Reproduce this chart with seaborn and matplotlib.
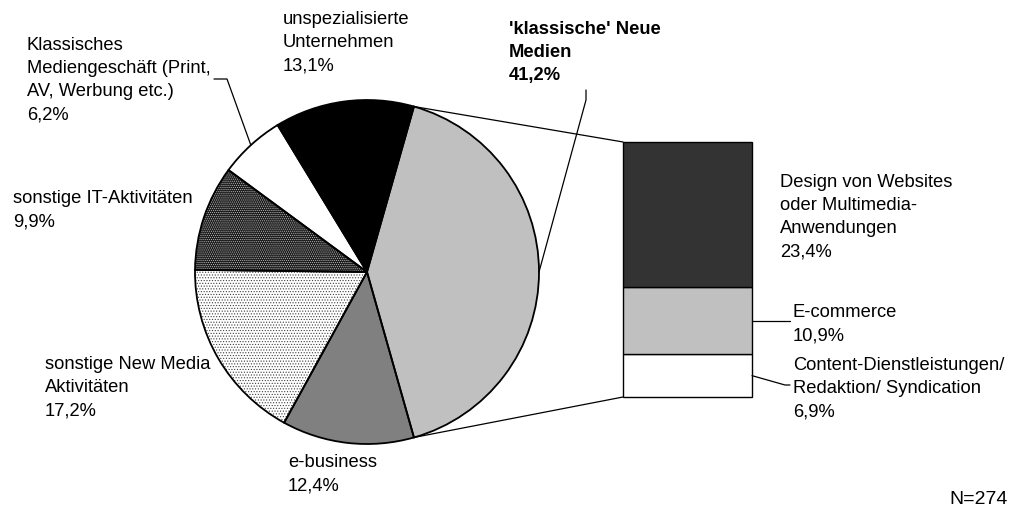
import numpy as np
import matplotlib
matplotlib.use("Agg")
import matplotlib.pyplot as plt
import seaborn as sns

# ---- data ----
pie_labels = ["'klassische' Neue\nMedien", "unspezialisierte\nUnternehmen",
              "Klassisches\nMediengeschäft (Print,\nAV, Werbung etc.)",
              "sonstige IT-Aktivitäten", "sonstige New Media\nAktivitäten",
              "e-business"]
pie_values = [41.2, 13.1, 6.2, 9.9, 17.2, 12.4]
pie_colors = ["#c0c0c0", "#000000", "#ffffff", "#1c1c1c", "#ffffff", "#808080"]
pie_hatches = [None, None, None, "........", "......", None]
pie_hatch_colors = [None, None, None, "#bdbdbd", "#404040", None]

bar_labels = ["Content-Dienstleistungen/\nRedaktion/ Syndication", "E-commerce",
              "Design von Websites\noder Multimedia-\nAnwendungen"]
bar_values = [6.9, 10.9, 23.4]
bar_colors = ["#ffffff", "#c0c0c0", "#333333"]
n_label = "N=274"

def pct(v):
    return f"{v:.1f}%".replace(".", ",")

sns.set_theme(style="white")
plt.rcParams['font.family'] = ['Liberation Sans', 'DejaVu Sans']
plt.rcParams['hatch.linewidth'] = 0.5

W, H = 1013, 508
fig = plt.figure(figsize=(W / 100, H / 100), dpi=100)
fig.patch.set_facecolor("white")

def fbox(left, top, width, height):
    return [left / W, 1 - (top + height) / H, width / W, height / H]

# overlay axes in pixel coordinates (for text + leader lines)
ov = fig.add_axes([0, 0, 1, 1], zorder=5)
ov.set_xlim(0, W); ov.set_ylim(H, 0); ov.axis("off"); ov.patch.set_alpha(0)

# ---- pie ----
cx, cy, r = 367, 272, 172
pax = fig.add_axes(fbox(cx - r, cy - r, 2 * r, 2 * r))
start = -pie_values[0] * 3.6 / 2
wedges, _ = pax.pie(pie_values, colors=pie_colors, startangle=start, counterclock=True,
                    radius=1, wedgeprops=dict(linewidth=0))
for w, h, hc in zip(wedges, pie_hatches, pie_hatch_colors):
    w.set_clip_on(False)
    if h:
        w.set_hatch(h)
        w.set_edgecolor(hc)
        w.set_linewidth(0)
# outlines
wo, _ = pax.pie(pie_values, startangle=start, counterclock=True, radius=1,
                wedgeprops=dict(fill=False, edgecolor="black", linewidth=1.3))
for w in wo:
    w.set_clip_on(False)
pax.set_xlim(-1, 1); pax.set_ylim(-1, 1); pax.set_aspect("equal"); pax.axis("off")

def pie_pt(angle_deg):
    p = pax.transData.transform((np.cos(np.radians(angle_deg)), np.sin(np.radians(angle_deg))))
    return ov.transData.inverted().transform(p)

# ---- stacked bar ----
bx0, bx1 = 623, 752
total = sum(bar_values)
scale = 6.19
btop = 397 - total * scale
bax = fig.add_axes(fbox(bx0, btop, bx1 - bx0, total * scale))
bottom = 0
for v, c in zip(bar_values, bar_colors):
    bax.bar(0, v, bottom=bottom, width=1, color=c, edgecolor="black", linewidth=1.0)
    bottom += v
bax.set_xlim(-0.5, 0.5); bax.set_ylim(0, total); bax.axis("off")
for p in bax.patches:
    p.set_clip_on(False)

def bar_pt(x, y):
    p = bax.transData.transform((x, y))
    return ov.transData.inverted().transform(p)

# connector lines pie -> bar
w0 = wedges[0]
for ang, yb in [(w0.theta2, total), (w0.theta1, 0)]:
    a = pie_pt(ang); b = bar_pt(-0.5, yb)
    ov.plot([a[0], b[0]], [a[1], b[1]], color="black", lw=0.9)

fs = 13.2
ls = 1.48
def label(x, y, s, bold=False):
    ov.text(x, y - 1, s, ha="left", va="top", fontsize=fs, linespacing=ls,
            fontweight="bold" if bold else "normal", color="black")

pie_pos = [(509, 22), (283, 12), (27, 38), (13, 191), (45, 357), (288, 455)]
for i, (lab, v) in enumerate(zip(pie_labels, pie_values)):
    label(pie_pos[i][0], pie_pos[i][1], f"{lab}\n{pct(v)}", bold=(i == 0))

bar_pos = [(793, 358), (793, 305), (780, 175)]
for (x, y), lab, v in zip(bar_pos, bar_labels, bar_values):
    label(x, y, f"{lab}\n{pct(v)}")

ov.text(949, 491, n_label, ha="left", va="top", fontsize=14, color="black")

# leader lines
mid = lambda w: (w.theta1 + w.theta2) / 2
p = pie_pt(mid(wedges[2]))
ov.plot([214, 227, p[0]], [79, 79, p[1]], color="black", lw=0.9)
p = pie_pt(mid(wedges[0]))
ov.plot([586, 586, p[0]], [90, 100, p[1]], color="black", lw=0.9)
b = bar_pt(0.5, bar_values[0] + bar_values[1] / 2)
ov.plot([b[0], 790], [b[1], b[1]], color="black", lw=0.9)
b = bar_pt(0.5, bar_values[0] / 2)
ov.plot([b[0], 785, 790], [b[1], 385, 385], color="black", lw=0.9)

fig.savefig("out.png", dpi=100, facecolor="white")
